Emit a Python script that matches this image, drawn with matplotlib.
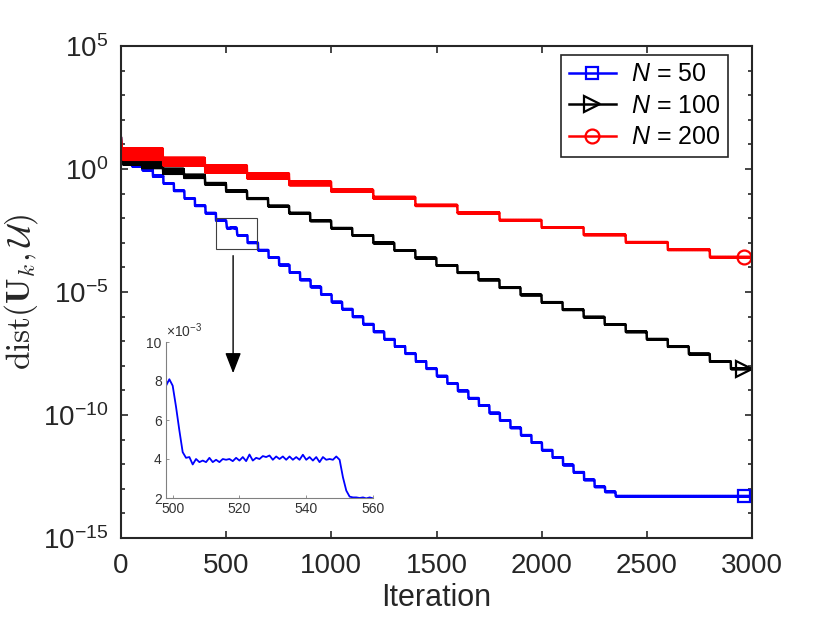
import numpy as np
import matplotlib
matplotlib.use('Agg')
import matplotlib.pyplot as plt
from matplotlib.patches import Rectangle
from matplotlib.ticker import NullFormatter

plt.rcParams['font.family'] = ['Liberation Sans', 'DejaVu Sans']
plt.rcParams['mathtext.fontset'] = 'custom'
plt.rcParams['mathtext.rm'] = 'Liberation Sans'
plt.rcParams['mathtext.it'] = 'Liberation Sans:italic'
plt.rcParams['mathtext.bf'] = 'Liberation Sans:bold'

n_iter = 3000
mark_at = 2960   # where the end markers sit

# flat levels of the staircases (one value per stretch)
blue_step, blue_shift = 50, 2
blue_levels = [2.2, 1.45, 0.95, 0.51, 0.26, 0.13, 6.4e-2, 3.2e-2, 1.6e-2, 8.0e-3,
               4.0e-3, 2.0e-3, 1.0e-3, 5.0e-4, 2.5e-4, 1.25e-4, 6.2e-5, 3.1e-5, 1.6e-5, 7.8e-6,
               3.9e-6, 2.0e-6, 9.8e-7, 4.9e-7, 2.4e-7, 1.2e-7, 6.1e-8, 3.1e-8, 1.5e-8, 7.6e-9,
               3.8e-9, 1.9e-9, 9.5e-10, 4.8e-10, 2.4e-10, 1.2e-10, 6.0e-11, 3.0e-11, 1.5e-11, 7.5e-12,
               3.7e-12, 1.9e-12, 9.3e-13, 4.7e-13, 2.3e-13, 1.2e-13, 7.5e-14]
blue_floor = 5.0e-14
blue_noise = [0.06, 0.05, 0.03, 0.02]          # half width of jitter band, decades
blue_head = [18, 11, 7, 4.5, 3.2, 2.6, 2.3]

black_step, black_shift = 100, 0
black_levels = [2.2, 1.45, 0.8, 0.5, 0.25, 0.125, 6.3e-2, 3.1e-2, 1.6e-2, 7.8e-3,
                3.9e-3, 2.0e-3, 9.8e-4, 4.9e-4, 2.4e-4, 1.2e-4, 6.1e-5, 3.1e-5, 1.5e-5, 7.6e-6,
                3.8e-6, 1.9e-6, 9.5e-7, 4.8e-7, 2.4e-7, 1.2e-7, 6.0e-8, 3.0e-8, 1.5e-8, 7.5e-9]
black_noise = [0.15, 0.12, 0.1, 0.06, 0.03, 0.02, 0.015]
black_head = [18, 12, 8, 5.5, 4, 3.2, 2.8, 2.5]

red_step, red_shift = 200, 0
red_levels = [4.0, 2.0, 1.0, 0.52, 0.26, 0.13, 6.8e-2, 3.3e-2, 1.66e-2, 8.3e-3,
              4.2e-3, 2.1e-3, 1.05e-3, 5.2e-4, 2.6e-4]
red_noise = [0.23, 0.15, 0.14, 0.10, 0.07, 0.04, 0.03, 0.02, 0.015]
red_head = [18, 14, 11, 9, 7.5, 6.5, 6, 5.5, 5.2, 5]

# zoomed segment of N = 50 (values in units of 1e-3), iterations 498..560
inset_start = 498
inset_vals = [7.75, 8.09, 7.76, 6.68, 5.47, 4.35, 4.06, 4.10, 3.72, 4.00,
              3.84, 3.92, 3.84, 4.06, 3.84, 3.96, 3.84, 4.00, 3.96, 4.00,
              3.89, 4.06, 3.92, 4.10, 3.89, 4.23, 3.92, 4.06, 4.00, 4.15,
              4.10, 4.18, 3.96, 4.13, 4.00, 4.13, 3.96, 4.13, 3.96, 4.10,
              3.96, 4.22, 3.96, 4.10, 3.92, 4.10, 3.84, 4.10, 3.96, 4.00,
              3.96, 4.13, 3.96, 3.06, 2.38, 2.07, 2.03, 2.03, 2.00, 2.03,
              1.98, 2.03, 1.98]

labels = [r'$N$ = 50', r'$N$ = 100', r'$N$ = 200']
colors = ['#0000ff', '#000000', '#ff0000']
markers = ['s', '>', 'o']
msizes = [9, 11, 10]


def staircase(levels, step, shift, noise, head, rest_noise=0.008):
    it = np.arange(n_iter + 1)
    lv = np.array(levels, dtype=float)
    amp = np.array((noise + [rest_noise] * len(levels))[:len(levels)])
    k = np.clip((it - shift) // step, 0, len(lv) - 1)
    sign = np.where(it % 2 == 0, 1.0, -1.0)
    y = lv[k] * 10 ** (amp[k] * sign)
    y[:len(head)] = head
    return it, y


n_blue = (n_iter // blue_step) + 2
it, y_blue = staircase(blue_levels + [blue_floor] * (n_blue - len(blue_levels)),
                       blue_step, blue_shift, blue_noise, blue_head, rest_noise=0.006)
y_blue[inset_start:inset_start + len(inset_vals)] = np.array(inset_vals) * 1e-3
_, y_black = staircase(black_levels, black_step, black_shift, black_noise, black_head)
_, y_red = staircase(red_levels, red_step, red_shift, red_noise, red_head)

fig = plt.figure(figsize=(8.3, 6.23), dpi=100)
ax = fig.add_axes([121 / 830, 85 / 623, 631 / 830, 492 / 623])

for y, c, m, ms, lab in zip([y_blue, y_black, y_red], colors, markers, msizes, labels):
    ax.plot(it, y, color=c, lw=1.8, marker=m, markevery=[mark_at], ms=ms,
            mfc='none', mec=c, mew=1.6, label=lab)

ax.set_yscale('log')
ax.set_xlim(0, 3000)
ax.set_ylim(1e-15, 1e5)
ax.set_xticks([0, 500, 1000, 1500, 2000, 2500, 3000])
ax.set_yticks([1e-15, 1e-10, 1e-5, 1e0, 1e5])
ax.set_yticks([10.0 ** e for e in range(-15, 6) if e % 5], minor=True)
ax.yaxis.set_minor_formatter(NullFormatter())
ax.tick_params(which='both', direction='in', top=True, right=True,
               colors='#262626', width=1.2, labelsize=20)
ax.tick_params(axis='x', which='minor', bottom=False, top=False)
ax.tick_params(which='major', length=5)
ax.tick_params(which='minor', length=3)
ax.tick_params(axis='x', pad=11)
ax.tick_params(axis='y', pad=9)
for s in ax.spines.values():
    s.set_linewidth(1.5)
    s.set_color('#262626')

ax.set_xlabel('Iteration', fontsize=22, color='#262626', labelpad=3)
ax.set_ylabel(r'$\mathrm{dist}(\mathbf{U}_k,\mathcal{U})$', fontsize=24,
              math_fontfamily='cm', color='#262626', labelpad=2)

leg = ax.legend(loc='upper right', bbox_to_anchor=(0.962, 0.982), borderaxespad=0,
                fontsize=18, fancybox=False, edgecolor='#262626', framealpha=1,
                handlelength=1.9, handletextpad=0.6, labelspacing=0.3, borderpad=0.3)
leg.get_frame().set_linewidth(1.2)

# magnifier box and arrow
ax.add_patch(Rectangle((452, 5.6e-4), 647 - 452, 1.0e-2 - 5.6e-4, fill=False,
                       edgecolor='#404040', lw=0.8, zorder=5))
ax.annotate('', xy=(533, 5e-9), xytext=(533, 3e-4),
            arrowprops=dict(arrowstyle='-|>,head_width=0.35,head_length=0.9',
                            color='k', lw=1.0, mutation_scale=14,
                            shrinkA=0, shrinkB=0))

# inset
ins = fig.add_axes([166 / 830, 125 / 623, 207 / 830, 156 / 623])
ins.patch.set_alpha(0)
ins.plot(np.arange(inset_start, inset_start + len(inset_vals)), inset_vals,
         color='#0000ff', lw=1.3)
ins.set_xlim(498, 560)
ins.set_ylim(2, 10)
ins.set_xticks([500, 520, 540, 560])
ins.set_yticks([2, 4, 6, 8, 10])
ins.spines['top'].set_visible(False)
ins.spines['right'].set_visible(False)
for s in ['left', 'bottom']:
    ins.spines[s].set_color('#808080')
    ins.spines[s].set_linewidth(0.8)
ins.tick_params(direction='in', length=2.5, width=0.6, color='#808080',
                labelcolor='#333333', labelsize=10, pad=3)
ins.text(0.0, 1.01, r'$\times10^{-3}$', transform=ins.transAxes, ha='left',
         va='bottom', fontsize=10, color='#333333')

fig.savefig('out.png', dpi=100, facecolor='white')
